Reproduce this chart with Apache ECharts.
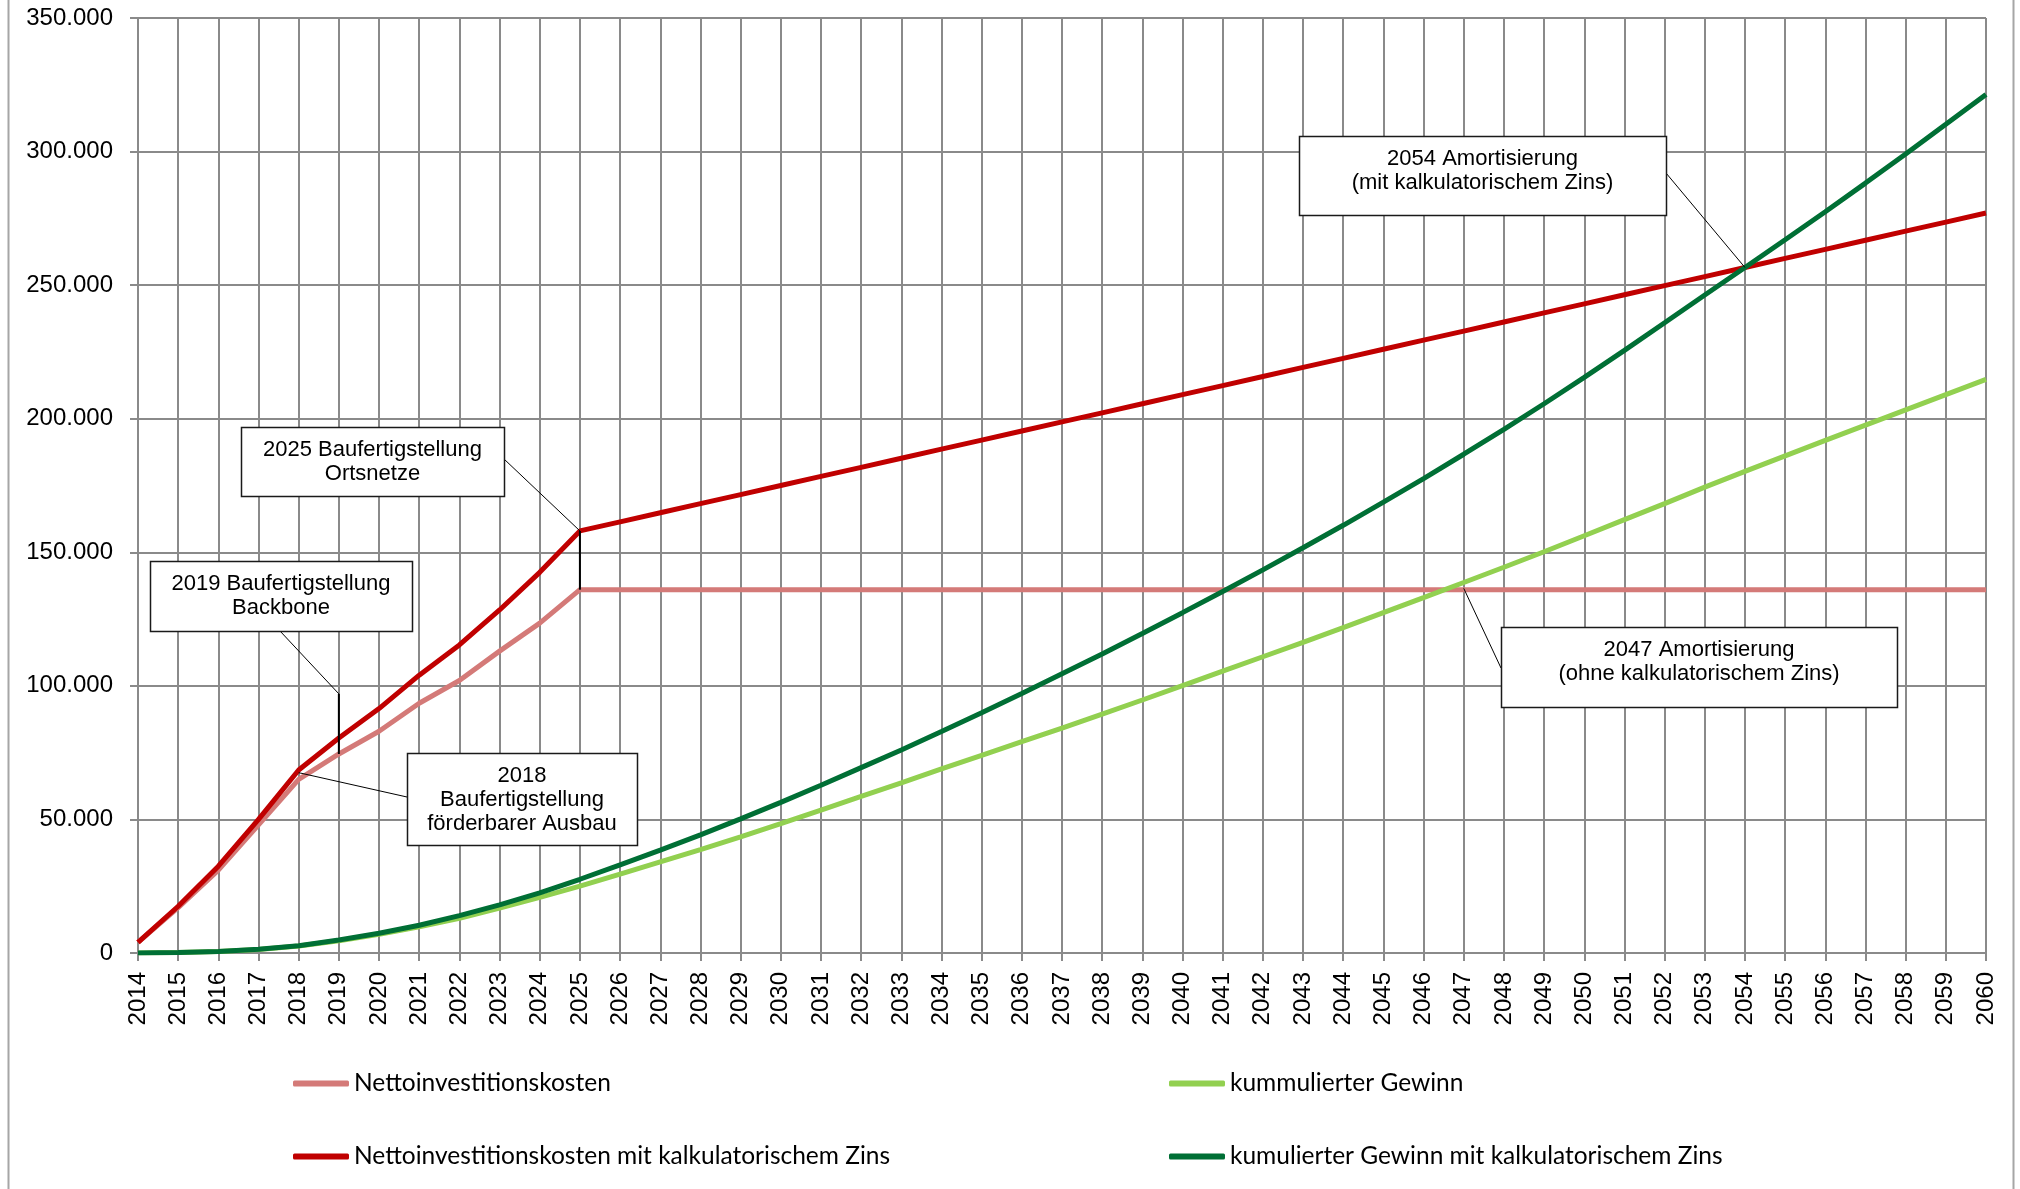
<!DOCTYPE html>
<html>
<head>
<meta charset="utf-8">
<script src="https://cdn.jsdelivr.net/npm/echarts@6.0.0/dist/echarts.min.js"></script>
<style>
  html, body { margin: 0; padding: 0; background: #fff; }
  #chart { width: 2020px; height: 1189px; }
</style>
</head>
<body>
<div id="chart"></div>
<script>
// Jahre (Kategorien)
var years = ['2014','2015','2016','2017','2018','2019','2020','2021','2022','2023',
  '2024','2025','2026','2027','2028','2029','2030','2031','2032','2033',
  '2034','2035','2036','2037','2038','2039','2040','2041','2042','2043',
  '2044','2045','2046','2047','2048','2049','2050','2051','2052','2053',
  '2054','2055','2056','2057','2058','2059','2060'];

// Werte in Tausend
var nettoKosten = [4, 17, 31, 48, 65, 74.5, 83, 93.5, 102, 113,
  123.5, 136, 136, 136, 136, 136, 136, 136, 136, 136,
  136, 136, 136, 136, 136, 136, 136, 136, 136, 136,
  136, 136, 136, 136, 136, 136, 136, 136, 136, 136,
  136, 136, 136, 136, 136, 136, 136];

var nettoKostenZins = [4, 17.5, 32.5, 50, 68.5, 80.5, 91.5, 104, 115.3, 128.4,
  142.5, 158, 161.4, 164.8, 168.2, 171.6, 175, 178.4, 181.8, 185.2,
  188.6, 192, 195.4, 198.8, 202.2, 205.6, 209, 212.4, 215.8, 219.2,
  222.6, 226, 229.4, 232.8, 236.2, 239.6, 243, 246.4, 249.8, 253.2,
  256.6, 260, 263.4, 266.8, 270.2, 273.6, 277];

var gewinn = [0, 0.2, 0.6, 1.3, 2.6, 4.6, 7.0, 9.8, 13.0, 16.8,
  20.8, 25.0, 29.5, 34.1, 38.7, 43.5, 48.4, 53.5, 58.6, 63.7,
  68.9, 74.0, 79.1, 84.2, 89.4, 94.7, 100.1, 105.5, 110.9, 116.3,
  121.8, 127.4, 133.0, 138.7, 144.4, 150.2, 156.2, 162.2, 168.2, 174.4,
  180.3, 186.1, 191.9, 197.6, 203.3, 209.0, 214.7];

var gewinnZins = [0, 0.2, 0.6, 1.4, 2.7, 4.9, 7.4, 10.4, 14.0, 18.0,
  22.5, 27.6, 33.0, 38.5, 44.2, 50.2, 56.4, 62.8, 69.4, 76.0,
  82.9, 89.9, 97.1, 104.5, 111.9, 119.6, 127.4, 135.3, 143.4, 151.7,
  160.1, 168.8, 177.6, 186.7, 196.0, 205.6, 215.5, 225.6, 235.9, 246.3,
  256.6, 267.0, 277.5, 288.2, 299.1, 310.2, 321.4];

// Beschriftungen
var noteTexts = [
  ['2025 Baufertigstellung', 'Ortsnetze'],
  ['2019 Baufertigstellung', 'Backbone'],
  ['2018', 'Baufertigstellung', 'förderbarer Ausbau'],
  ['2054 Amortisierung', '(mit kalkulatorischem Zins)'],
  ['2047 Amortisierung', '(ohne kalkulatorischem Zins)']
];
// Ankerpunkt [Jahr, Wert, Fusspunkt der senkrechten Linie]
var noteAnchors = [
  ['2025', 158, 136],
  ['2019', 97, 74.5],
  ['2018', 67.5, null],
  ['2054', 256.6, null],
  ['2047', 136.5, null]
];

var names = ['Nettoinvestitionskosten', 'Nettoinvestitionskosten mit kalkulatorischem Zins',
  'kummulierter Gewinn', 'kumulierter Gewinn mit kalkulatorischem Zins'];
var colors = ['#D47A78', '#C00000', '#92D050', '#006F35'];

var gridColor = '#8a8a8a';
var axisFont = 'Liberation Sans';

var chart = echarts.init(document.getElementById('chart'));

function legendAt(name, left, top) {
  return {
    data: [name], left: left, top: top, padding: 0,
    icon: 'roundRect', itemWidth: 56, itemHeight: 6,
    textStyle: { fontFamily: 'Lato', fontSize: 24.5, color: '#000' }
  };
}

function lineSeries(i, values) {
  return {
    name: names[i], type: 'line', data: values,
    symbol: 'none', smooth: false,
    lineStyle: { color: colors[i], width: 5 },
    itemStyle: { color: colors[i] },
    z: 2 + i
  };
}

chart.setOption({
  animation: false,
  grid: { left: 138, right: 34, top: 18, bottom: 236 },
  legend: [
    legendAt(names[0], 293, 1071),
    legendAt(names[1], 293, 1144),
    legendAt(names[2], 1169, 1071),
    legendAt(names[3], 1169, 1144)
  ],
  xAxis: {
    type: 'category', data: years, boundaryGap: false,
    axisLine: { lineStyle: { color: gridColor, width: 2 } },
    axisTick: { show: true, length: 8, interval: 0, lineStyle: { color: gridColor, width: 2 } },
    axisLabel: { rotate: 90, interval: 0, margin: 19, fontSize: 24, color: '#000', fontFamily: axisFont },
    splitLine: { show: true, interval: 0, lineStyle: { color: gridColor, width: 2 } }
  },
  yAxis: {
    type: 'value', min: 0, max: 350, interval: 50,
    axisLine: { show: true, lineStyle: { color: gridColor, width: 2 } },
    axisTick: { show: true, length: 8, lineStyle: { color: gridColor, width: 2 } },
    axisLabel: {
      margin: 25, fontSize: 24, color: '#000', fontFamily: axisFont,
      formatter: function (v) { return v === 0 ? '0' : v + '.000'; }
    },
    splitLine: { show: true, lineStyle: { color: gridColor, width: 2 } }
  },
  series: [
    lineSeries(0, nettoKosten),
    lineSeries(1, nettoKostenZins),
    lineSeries(2, gewinn),
    lineSeries(3, gewinnZins)
  ]
});

// Kastenlage: [x, y, breite, hoehe, textmitte y, startpunkt der Fuehrungslinie]
var boxes = [
  { x: 241, y: 427, w: 263, h: 69, ty: 462, from: [504, 459] },
  { x: 150, y: 561, w: 262, h: 70, ty: 596, from: [280, 631] },
  { x: 407, y: 753, w: 230, h: 92, ty: 800, from: [407, 797] },
  { x: 1299, y: 136, w: 367, h: 79, ty: 171, from: [1666, 173] },
  { x: 1501, y: 627, w: 396, h: 80, ty: 662, from: [1501, 668] }
];

function toPx(year, v) {
  return chart.convertToPixel({ xAxisIndex: 0, yAxisIndex: 0 }, [years.indexOf(year), v]);
}

var graphics = [
  { type: 'line', shape: { x1: 8.5, y1: 0, x2: 8.5, y2: 1189 }, style: { stroke: '#a6a6a6', lineWidth: 2 } },
  { type: 'line', shape: { x1: 2013.5, y1: 0, x2: 2013.5, y2: 1189 }, style: { stroke: '#a6a6a6', lineWidth: 2 } }
];

boxes.forEach(function (b, i) {
  var anc = noteAnchors[i];
  var p = toPx(anc[0], anc[1]);
  graphics.push({
    type: 'line', z: 100,
    shape: { x1: b.from[0], y1: b.from[1], x2: p[0], y2: p[1] },
    style: { stroke: '#000', lineWidth: 1 }
  });
  if (anc[2] !== null) {
    var q = toPx(anc[0], anc[2]);
    graphics.push({
      type: 'line', z: 100,
      shape: { x1: p[0], y1: p[1], x2: q[0], y2: q[1] },
      style: { stroke: '#000', lineWidth: 2 }
    });
  }
  graphics.push({
    type: 'rect', z: 100,
    shape: { x: b.x + 0.5, y: b.y + 0.5, width: b.w, height: b.h },
    style: { fill: '#fff', stroke: '#1a1a1a', lineWidth: 1.5 }
  });
  graphics.push({
    type: 'text', z: 101, x: b.x + b.w / 2, y: b.ty,
    style: {
      text: noteTexts[i].join('\n'), fill: '#000',
      font: '22px "Liberation Sans"', align: 'center', verticalAlign: 'middle', lineHeight: 24
    }
  });
});

chart.setOption({ graphic: graphics });
</script>
</body>
</html>
